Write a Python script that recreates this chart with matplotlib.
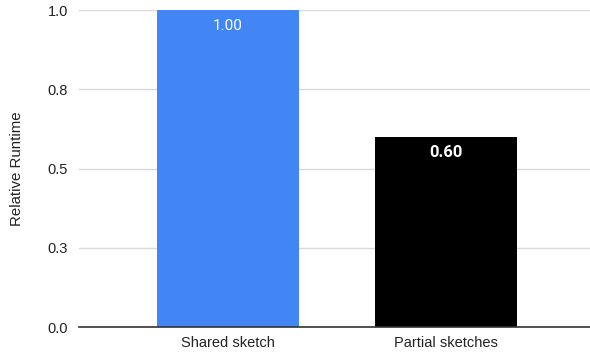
import matplotlib
matplotlib.use("Agg")
import matplotlib.pyplot as plt

categories = ["Shared sketch", "Partial sketches"]
values = [1.00, 0.60]
bar_colors = ["#4285f4", "#000000"]
label_weights = ["normal", "bold"]
label_sizes = [11, 12]
yticks = [0.0, 0.25, 0.5, 0.75, 1.0]
ytick_labels = ["0.0", "0.3", "0.5", "0.8", "1.0"]

plt.rcParams["font.family"] = ["Liberation Sans", "DejaVu Sans"]

fig = plt.figure(figsize=(5.9, 3.58), dpi=100)
ax = fig.add_axes([0.134, 0.086, 0.866, 0.886])

x = list(range(len(categories)))
bars = ax.bar(x, values, width=0.65, color=bar_colors, zorder=3)

for xi, v, w, fs in zip(x, values, label_weights, label_sizes):
    ax.annotate(f"{v:.2f}", xy=(xi, v), xytext=(0, -11.5), textcoords="offset points",
                ha="center", va="center", color="white", fontsize=fs,
                fontweight=w, family=["Roboto", "DejaVu Sans"], zorder=4)

ax.set_xlim(-0.68, 1.66)
ax.set_ylim(0, 1.0)
ax.set_yticks(yticks)
ax.set_yticklabels(ytick_labels)
ax.set_xticks(x)
ax.set_xticklabels(categories)
ax.tick_params(axis="both", length=0, labelsize=10.5, colors="#222222", pad=6)
ax.tick_params(axis="y", pad=8)
ax.grid(axis="y", color="#d9d9d9", linewidth=1, zorder=0)
ax.set_axisbelow(True)
for s in ["top", "right", "left"]:
    ax.spines[s].set_visible(False)
ax.spines["bottom"].set_color("#333333")
ax.spines["bottom"].set_linewidth(1.2)
ax.spines["bottom"].set_zorder(5)
ax.set_ylabel("Relative Runtime", fontsize=10.8, color="#222222", labelpad=17)

fig.savefig("out.png", dpi=100)
